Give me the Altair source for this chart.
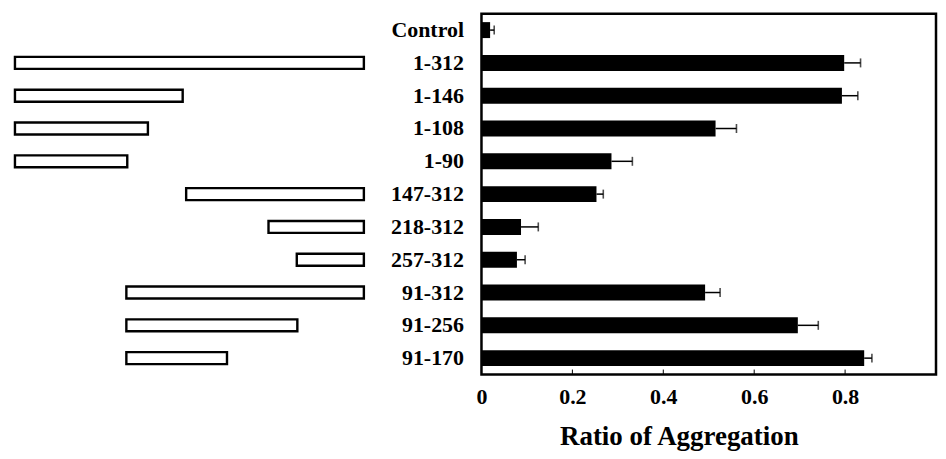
import altair as alt
import pandas as pd

# Constructs (row labels), top to bottom
labels = ["Control", "1-312", "1-146", "1-108", "1-90", "147-312",
          "218-312", "257-312", "91-312", "91-256", "91-170"]
# Ratio of aggregation (bar values) and error (+SD)
ratio = [0.019, 0.798, 0.793, 0.515, 0.286, 0.253, 0.087, 0.078, 0.492, 0.696, 0.842]
error = [0.009, 0.036, 0.035, 0.046, 0.046, 0.015, 0.038, 0.018, 0.033, 0.045, 0.017]
# Schematic fragment extents as drawn (residue units of the 1-312 protein)
frag_labels = labels[1:]
frag_start = [1, 1, 1, 1, 153.6, 227, 252.2, 100.3, 100.3, 100.3]
frag_end = [312, 150.5, 119.5, 101.1, 312, 312, 312, 312, 252.7, 190]
# x-axis ticks
tick_values = [0, 0.2, 0.4, 0.6, 0.8]

bars_df = pd.DataFrame({"label": labels, "ratio": ratio,
                        "hi": [r + e for r, e in zip(ratio, error)]})
frag_df = pd.DataFrame({"label": frag_labels, "start": frag_start, "end": frag_end})
ticks_df = pd.DataFrame({"t": tick_values[1:]})

FONT = "Liberation Serif"
H = 362

y_left = alt.Y("label:N", sort=labels, scale=alt.Scale(domain=labels, paddingInner=0, paddingOuter=0),
               axis=None)

left = alt.Chart(frag_df).mark_bar(size=12, fill="white", stroke="black", strokeWidth=2.4).encode(
    x=alt.X("start:Q", scale=alt.Scale(domain=[-5.2, 326.2], nice=False, zero=False), axis=None),
    x2="end:Q",
    y=y_left,
).properties(width=373, height=H, view=alt.ViewBackground(stroke="transparent", strokeWidth=0))

x_enc = alt.X("ratio:Q",
              scale=alt.Scale(domain=[0, 1], nice=False),
              axis=alt.Axis(values=tick_values, format="~g", domain=False, ticks=False, grid=False,
                            labelPadding=12, labelFlush=False,
                            title="Ratio of Aggregation",
                            titleX=198, titleY=70, titleBaseline="alphabetic", titleAlign="center"))
y_right = alt.Y("label:N", sort=labels, scale=alt.Scale(domain=labels, paddingInner=0, paddingOuter=0),
                axis=alt.Axis(title=None, domain=False, ticks=False, labelFontSize=22, labelPadding=18,
                              labelAlign="right", minExtent=100, maxExtent=100))

base = alt.Chart(bars_df)
bar = base.mark_bar(size=16, color="black").encode(x=x_enc, y=y_right)
err_line = base.mark_rule(color="black", strokeWidth=1.5).encode(
    x=alt.X("ratio:Q", title="Ratio of Aggregation"), x2="hi:Q", y=alt.Y("label:N", sort=labels))
err_cap = base.mark_tick(color="black", size=9, thickness=1.6).encode(
    x=alt.X("hi:Q", title="Ratio of Aggregation"), y=alt.Y("label:N", sort=labels))
xticks = alt.Chart(ticks_df).mark_rule(color="black", strokeWidth=1).encode(
    x=alt.X("t:Q", title="Ratio of Aggregation"), y=alt.value(H), y2=alt.value(H - 5))

right = alt.layer(bar, err_line, err_cap, xticks).properties(
    width=456, height=H, view=alt.ViewBackground(stroke="black", strokeWidth=2.5))

chart = alt.hconcat(left, right, spacing=0).properties(
    padding={"left": 0, "top": 3, "right": 0, "bottom": 0}
).configure_view(stroke=None).configure(background="white").configure_axis(
    labelFont=FONT, labelFontSize=22, labelFontWeight="bold", labelColor="black",
    titleFont=FONT, titleFontSize=27, titleFontWeight="bold", titleColor="black")

chart.save("out.html", embed_options={"renderer": "svg", "actions": False})
